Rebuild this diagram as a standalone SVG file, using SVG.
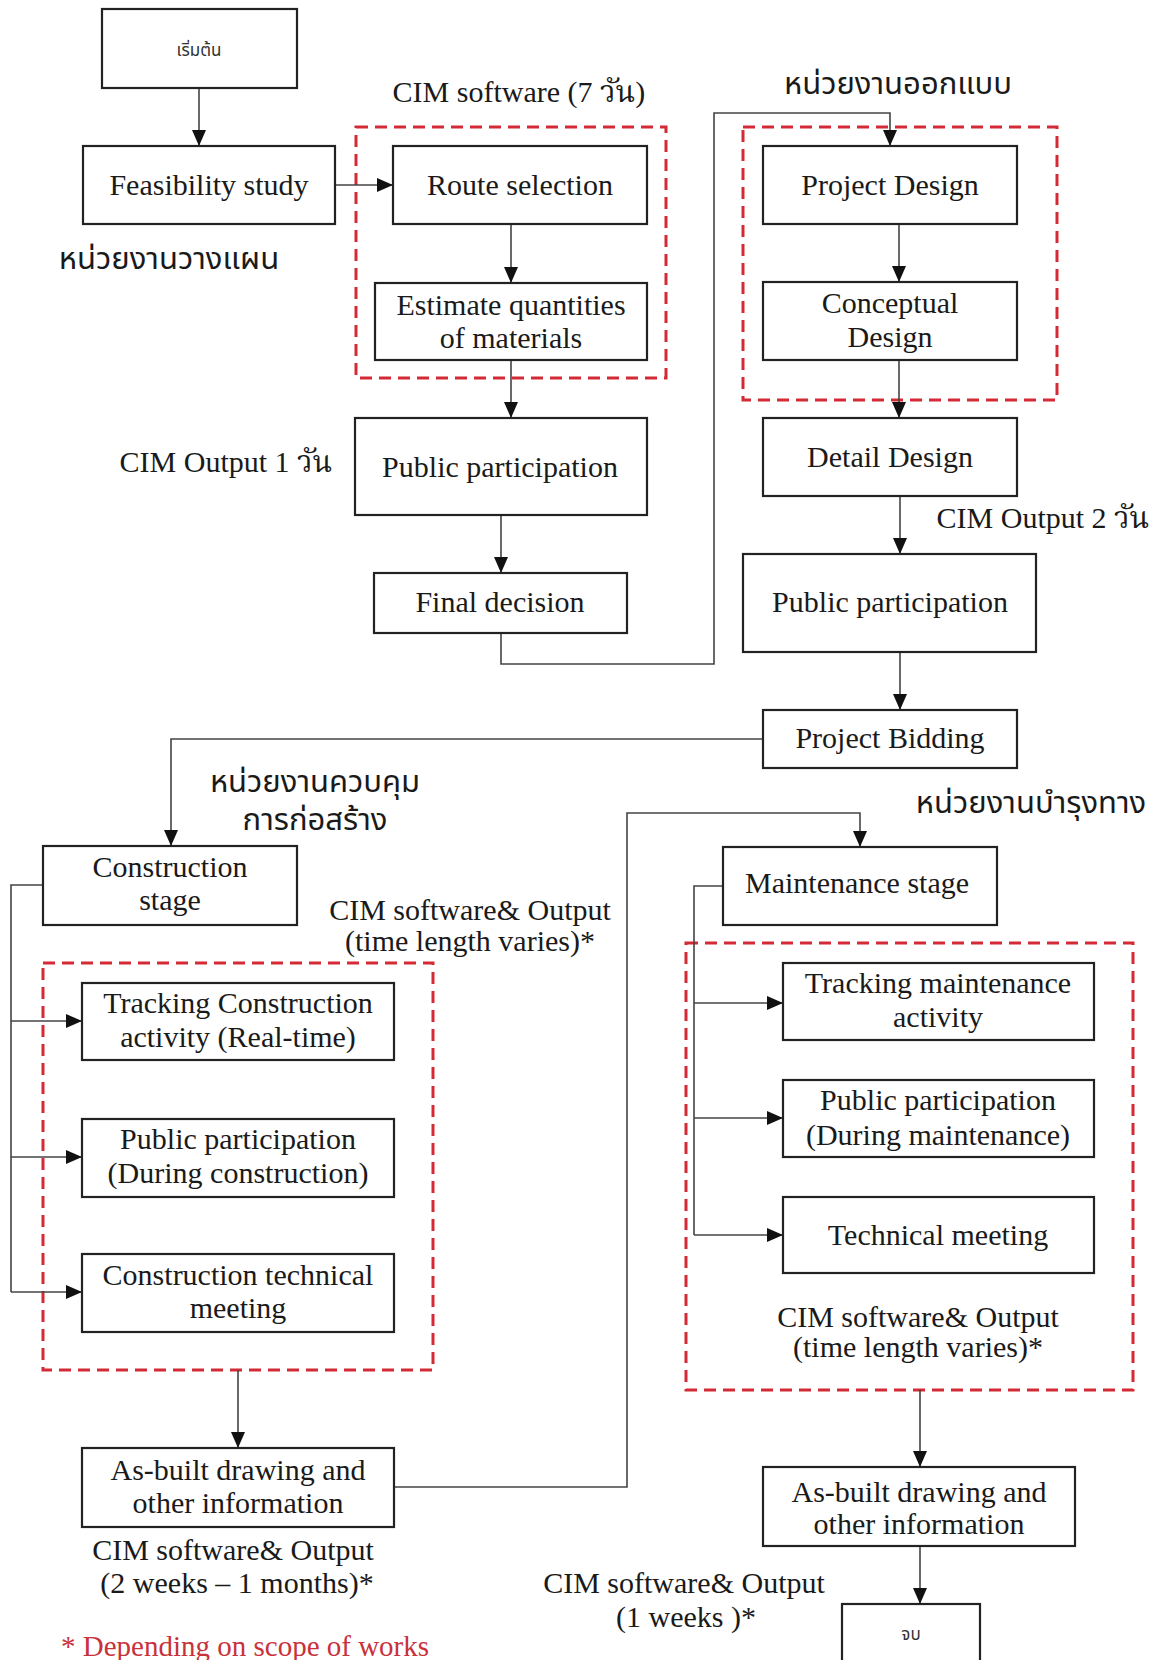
<svg xmlns="http://www.w3.org/2000/svg" width="1156" height="1660" viewBox="0 0 1156 1660">
<defs>
<style>
.box{fill:#fff;stroke:#222;stroke-width:2.2}
.grp{fill:none;stroke:#d42a35;stroke-width:3;stroke-dasharray:12 7}
.c{fill:none;stroke:#444;stroke-width:1.6}
.t{font-family:"Liberation Serif","Noto Serif Thai","Noto Sans Thai",serif;font-size:30px;fill:#1a1a1a;text-anchor:middle}
.th{font-family:"Noto Sans Thai","Noto Sans Thai UI","Noto Sans","DejaVu Sans",sans-serif;font-size:31px;fill:#1a1a1a;text-anchor:middle}
.sm{font-family:"Noto Sans Thai","Noto Sans","DejaVu Sans",sans-serif;font-size:17px;fill:#333;text-anchor:middle}
.red{font-family:"Liberation Serif",serif;font-size:29px;fill:#c8323a}
</style>
<marker id="ah" viewBox="0 0 16 14" refX="16" refY="7" markerWidth="16" markerHeight="14" markerUnits="userSpaceOnUse" orient="auto">
<path d="M0,0 L16,7 L0,14 Z" fill="#111"/>
</marker>
</defs>
<rect width="1156" height="1660" fill="#fff"/>

<g id="groups">
<rect class="grp" x="356" y="127" width="310" height="251"/>
<rect class="grp" x="743" y="127" width="314" height="273"/>
<rect class="grp" x="43" y="963" width="390" height="407"/>
<rect class="grp" x="686" y="943" width="447" height="447"/>
</g>

<g id="connectors">
<path class="c" d="M199,88 V146" marker-end="url(#ah)"/>
<path class="c" d="M335,185 H393" marker-end="url(#ah)"/>
<path class="c" d="M511,224 V283" marker-end="url(#ah)"/>
<path class="c" d="M511,360 V418" marker-end="url(#ah)"/>
<path class="c" d="M501,515 V573" marker-end="url(#ah)"/>
<path class="c" d="M501,633 V664 H714 V113 H890 V146" marker-end="url(#ah)"/>
<path class="c" d="M899,224 V282" marker-end="url(#ah)"/>
<path class="c" d="M899,360 V418" marker-end="url(#ah)"/>
<path class="c" d="M900,496 V554" marker-end="url(#ah)"/>
<path class="c" d="M900,652 V710" marker-end="url(#ah)"/>
<path class="c" d="M763,739 H171 V846" marker-end="url(#ah)"/>
<path class="c" d="M43,885 H11 V1292"/>
<path class="c" d="M11,1021 H82" marker-end="url(#ah)"/>
<path class="c" d="M11,1157 H82" marker-end="url(#ah)"/>
<path class="c" d="M11,1292 H82" marker-end="url(#ah)"/>
<path class="c" d="M238,1370 V1448" marker-end="url(#ah)"/>
<path class="c" d="M394,1487 H627 V813 H860 V847" marker-end="url(#ah)"/>
<path class="c" d="M723,886 H694 V1235"/>
<path class="c" d="M694,1003 H783" marker-end="url(#ah)"/>
<path class="c" d="M694,1118 H783" marker-end="url(#ah)"/>
<path class="c" d="M694,1235 H783" marker-end="url(#ah)"/>
<path class="c" d="M920,1390 V1467" marker-end="url(#ah)"/>
<path class="c" d="M920,1546 V1604" marker-end="url(#ah)"/>
</g>

<g id="start"><rect class="box" x="102" y="9" width="195" height="79"/><text class="sm" x="199" y="56">เริ่มต้น</text></g>
<g id="feasibility"><rect class="box" x="83" y="146" width="252" height="78"/><text class="t" x="209" y="195">Feasibility study</text></g>
<g id="route"><rect class="box" x="393" y="146" width="254" height="78"/><text class="t" x="520" y="195">Route selection</text></g>
<g id="estimate"><rect class="box" x="375" y="283" width="272" height="77"/><text class="t" x="511" y="315">Estimate quantities</text><text class="t" x="511" y="348">of materials</text></g>
<g id="public1"><rect class="box" x="355" y="418" width="292" height="97"/><text class="t" x="500" y="477">Public participation</text></g>
<g id="final"><rect class="box" x="374" y="573" width="253" height="60"/><text class="t" x="500" y="612">Final decision</text></g>
<g id="projdesign"><rect class="box" x="763" y="146" width="254" height="78"/><text class="t" x="890" y="195">Project Design</text></g>
<g id="concept"><rect class="box" x="763" y="282" width="254" height="78"/><text class="t" x="890" y="313">Conceptual</text><text class="t" x="890" y="347">Design</text></g>
<g id="detail"><rect class="box" x="763" y="418" width="254" height="78"/><text class="t" x="890" y="467">Detail Design</text></g>
<g id="public2"><rect class="box" x="743" y="554" width="293" height="98"/><text class="t" x="890" y="612">Public participation</text></g>
<g id="bidding"><rect class="box" x="763" y="710" width="254" height="58"/><text class="t" x="890" y="748">Project Bidding</text></g>
<g id="construction"><rect class="box" x="43" y="846" width="254" height="79"/><text class="t" x="170" y="877">Construction</text><text class="t" x="170" y="910">stage</text></g>
<g id="track1"><rect class="box" x="82" y="983" width="312" height="77"/><text class="t" x="238" y="1013">Tracking Construction</text><text class="t" x="238" y="1047">activity (Real-time)</text></g>
<g id="public3"><rect class="box" x="82" y="1119" width="312" height="78"/><text class="t" x="238" y="1149">Public participation</text><text class="t" x="238" y="1183">(During construction)</text></g>
<g id="techmeet1"><rect class="box" x="82" y="1254" width="312" height="78"/><text class="t" x="238" y="1285">Construction technical</text><text class="t" x="238" y="1318">meeting</text></g>
<g id="asbuilt1"><rect class="box" x="82" y="1448" width="312" height="79"/><text class="t" x="238" y="1480">As-built drawing and</text><text class="t" x="238" y="1513">other information</text></g>
<g id="maintenance"><rect class="box" x="723" y="847" width="274" height="78"/><text class="t" x="857" y="893">Maintenance stage</text></g>
<g id="track2"><rect class="box" x="783" y="963" width="311" height="77"/><text class="t" x="938" y="993">Tracking maintenance</text><text class="t" x="938" y="1027">activity</text></g>
<g id="public4"><rect class="box" x="783" y="1080" width="311" height="77"/><text class="t" x="938" y="1110">Public participation</text><text class="t" x="938" y="1145">(During maintenance)</text></g>
<g id="techmeet2"><rect class="box" x="783" y="1197" width="311" height="76"/><text class="t" x="938" y="1245">Technical meeting</text></g>
<g id="asbuilt2"><rect class="box" x="763" y="1467" width="312" height="79"/><text class="t" x="919" y="1502">As-built drawing and</text><text class="t" x="919" y="1534">other information</text></g>
<g id="end"><rect class="box" x="842" y="1604" width="138" height="70"/><text class="sm" x="911" y="1640">จบ</text></g>

<g id="labels">
<text class="th" x="169" y="269">หน่วยงานวางแผน</text>
<text class="t" x="519" y="102">CIM software (7 วัน)</text>
<text class="th" x="898" y="94">หน่วยงานออกแบบ</text>
<text class="t" x="226" y="472">CIM Output 1 วัน</text>
<text class="t" x="1043" y="528">CIM Output 2 วัน</text>
<text class="th" x="315" y="792">หน่วยงานควบคุม</text>
<text class="th" x="315" y="830">การก่อสร้าง</text>
<text class="t" x="470" y="920">CIM software&amp; Output</text>
<text class="t" x="470" y="951">(time length varies)*</text>
<text class="th" x="1031" y="813">หน่วยงานบำรุงทาง</text>
<text class="t" x="918" y="1327">CIM software&amp; Output</text>
<text class="t" x="918" y="1357">(time length varies)*</text>
<text class="t" x="233" y="1560">CIM software&amp; Output</text>
<text class="t" x="237" y="1593">(2 weeks – 1 months)*</text>
<text class="t" x="684" y="1593">CIM software&amp; Output</text>
<text class="t" x="686" y="1627">(1 weeks )*</text>
<text class="red" x="61" y="1656">* Depending on scope of works</text>
</g>
</svg>
